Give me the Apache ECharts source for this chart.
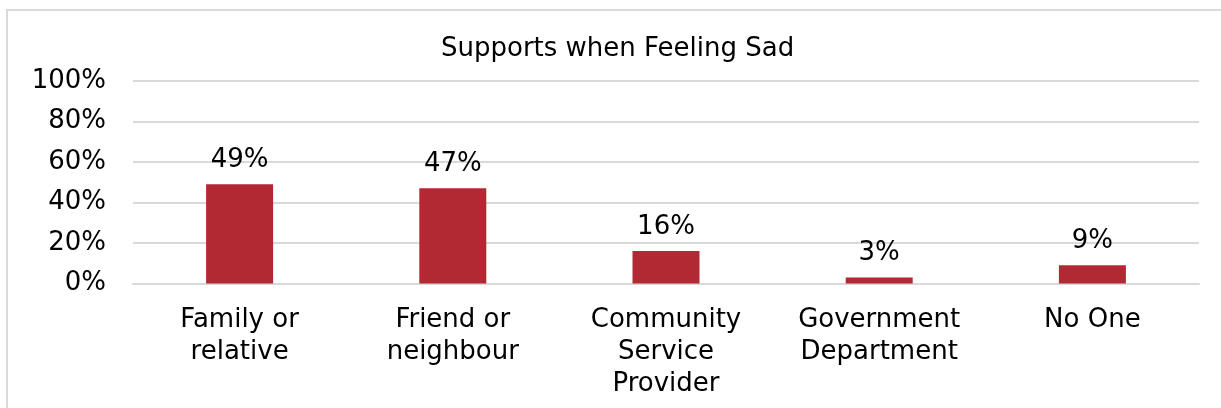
<!DOCTYPE html>
<html>
<head>
<meta charset="utf-8">
<script src="https://cdn.jsdelivr.net/npm/echarts@6/dist/echarts.min.js"></script>
<style>
  html, body { margin: 0; padding: 0; background: #fff; }
  #frame { position: absolute; left: 6px; top: 9px; width: 1300px; height: 500px; border: 2px solid #d9d9d9; box-sizing: border-box; }
  #chart { position: absolute; left: 0; top: 0; width: 1221px; height: 408px; }
</style>
</head>
<body>
<div id="frame"></div>
<div id="chart"></div>
<script>
const categories = ["Family or\nrelative", "Friend or\nneighbour", "Community\nService\nProvider", "Government\nDepartment", "No One"];
const values = [49, 47, 16, 3, 9];
const yTicks = [0, 20, 40, 60, 80, 100];
const titleText = "Supports when Feeling Sad";

const chart = echarts.init(document.getElementById('chart'), null, { renderer: 'canvas' });
const font = "DejaVu Sans";
const fs = 26;
chart.setOption({
  animation: false,
  backgroundColor: 'transparent',
  title: {
    text: titleText,
    left: 436,
    top: 31,
    textStyle: { fontFamily: font, fontSize: fs, fontWeight: 'normal', color: '#000' }
  },
  grid: { left: 133, right: 22, top: 81, bottom: 124.5, containLabel: false },
  xAxis: {
    type: 'category',
    data: categories,
    axisLine: { show: true, lineStyle: { color: '#d9d9d9', width: 2 } },
    axisTick: { show: false },
    axisLabel: { fontFamily: font, fontSize: fs, color: '#000', lineHeight: 32, margin: 21, interval: 0 }
  },
  yAxis: {
    type: 'value',
    min: yTicks[0],
    max: yTicks[yTicks.length - 1],
    interval: 20,
    axisLine: { show: false },
    axisTick: { show: false },
    splitLine: { lineStyle: { color: '#d9d9d9', width: 2 } },
    axisLabel: { fontFamily: font, fontSize: fs, color: '#000', margin: 27, formatter: v => v + '%' }
  },
  series: [{
    type: 'bar',
    data: values,
    barWidth: 67,
    itemStyle: { color: '#B22833' },
    label: { show: true, position: 'top', distance: 11, fontFamily: font, fontSize: fs, color: '#000', formatter: p => p.value + '%' }
  }]
});
</script>
</body>
</html>
